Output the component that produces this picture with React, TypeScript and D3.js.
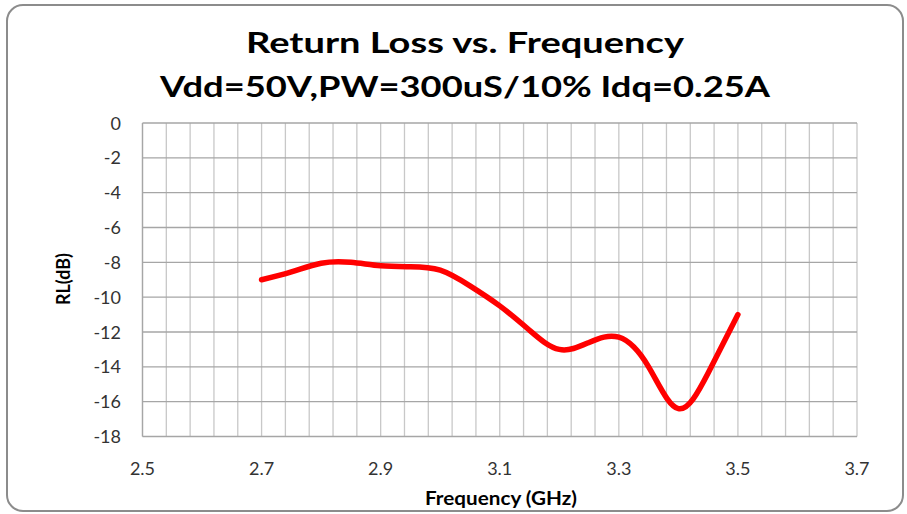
import React from "react";
import * as d3 from "d3";

const freq = [2.7, 2.75, 2.8, 2.85, 2.9, 2.95, 3.0, 3.05, 3.1, 3.15, 3.2, 3.25, 3.3, 3.35, 3.4, 3.45, 3.5];
const rl = [-9.0, -8.55, -8.05, -8.0, -8.2, -8.25, -8.45, -9.35, -10.5, -11.9, -13.0, -12.6, -12.3, -14.0, -16.4, -14.35, -11.0];
const xTicks = [2.5, 2.7, 2.9, 3.1, 3.3, 3.5, 3.7];
const yTicks = [0, -2, -4, -6, -8, -10, -12, -14, -16, -18];
const titleLines = ["Return Loss vs. Frequency", "Vdd=50V,PW=300uS/10% Idq=0.25A"];

export default function App() {
  const W = 907, H = 514;
  const left = 142.5, right = 857, top = 123, bottom = 436.5;
  const x = d3.scaleLinear().domain([2.5, 3.7]).range([left, right]);
  const y = d3.scaleLinear().domain([-18, 0]).range([bottom, top]);
  const minor = d3.range(0, 31).map((i) => 2.5 + i * 0.04);
  const line = d3
    .line<number>()
    .x((_, i) => x(freq[i]))
    .y((d) => y(d))
    .curve(d3.curveNatural);
  const font = "Lato, 'Open Sans', sans-serif";
  const titleW = [438, 610];
  const titleY = [52.5, 96.5];
  return (
    <svg width={W} height={H} style={{ position: "absolute", left: 0, top: 0 }}>
      <rect x={0} y={0} width={W} height={H} fill="#fff" />
      <rect x={7} y={5} width={896} height={506} rx={16} ry={16} fill="#fff" stroke="#8c8c8c" strokeWidth={2} />
      {titleLines.map((t, i) => (
        <text key={i} x={465} y={titleY[i]} textAnchor="middle" fontFamily={font} fontWeight={700} fontSize={28} fill="#000" textLength={titleW[i]} lengthAdjust="spacingAndGlyphs">
          {t}
        </text>
      ))}
      {minor.map((v, i) => (
        <line key={"v" + i} x1={x(v)} x2={x(v)} y1={top} y2={bottom} stroke="#c8c8c8" strokeWidth={1.3} />
      ))}
      {yTicks.map((v) => (
        <line key={"h" + v} x1={left} x2={right} y1={y(v)} y2={y(v)} stroke="#a6a6a6" strokeWidth={1.3} />
      ))}
      <line x1={left} x2={left} y1={top} y2={bottom} stroke="#a6a6a6" strokeWidth={1.3} />
      {yTicks.map((v) => (
        <text key={"yl" + v} x={121} y={y(v) + 6.5} textAnchor="end" fontFamily={font} fontSize={18} fill="#333">
          {v}
        </text>
      ))}
      {xTicks.map((v) => (
        <text key={"xl" + v} x={x(v)} y={475} textAnchor="middle" fontFamily={font} fontSize={18} fill="#333">
          {v.toFixed(1)}
        </text>
      ))}
      <text x={0} y={0} transform={`translate(69.5,279) rotate(-90)`} textAnchor="middle" fontFamily={font} fontWeight={700} fontSize={18} fill="#000" textLength={52} lengthAdjust="spacingAndGlyphs">
        RL(dB)
      </text>
      <text x={501} y={505} textAnchor="middle" fontFamily={font} fontWeight={700} fontSize={18} fill="#000" textLength={152} lengthAdjust="spacingAndGlyphs">
        Frequency (GHz)
      </text>
      <path d={line(rl) || ""} fill="none" stroke="#ff0000" strokeWidth={5.5} strokeLinecap="round" strokeLinejoin="round" />
    </svg>
  );
}
